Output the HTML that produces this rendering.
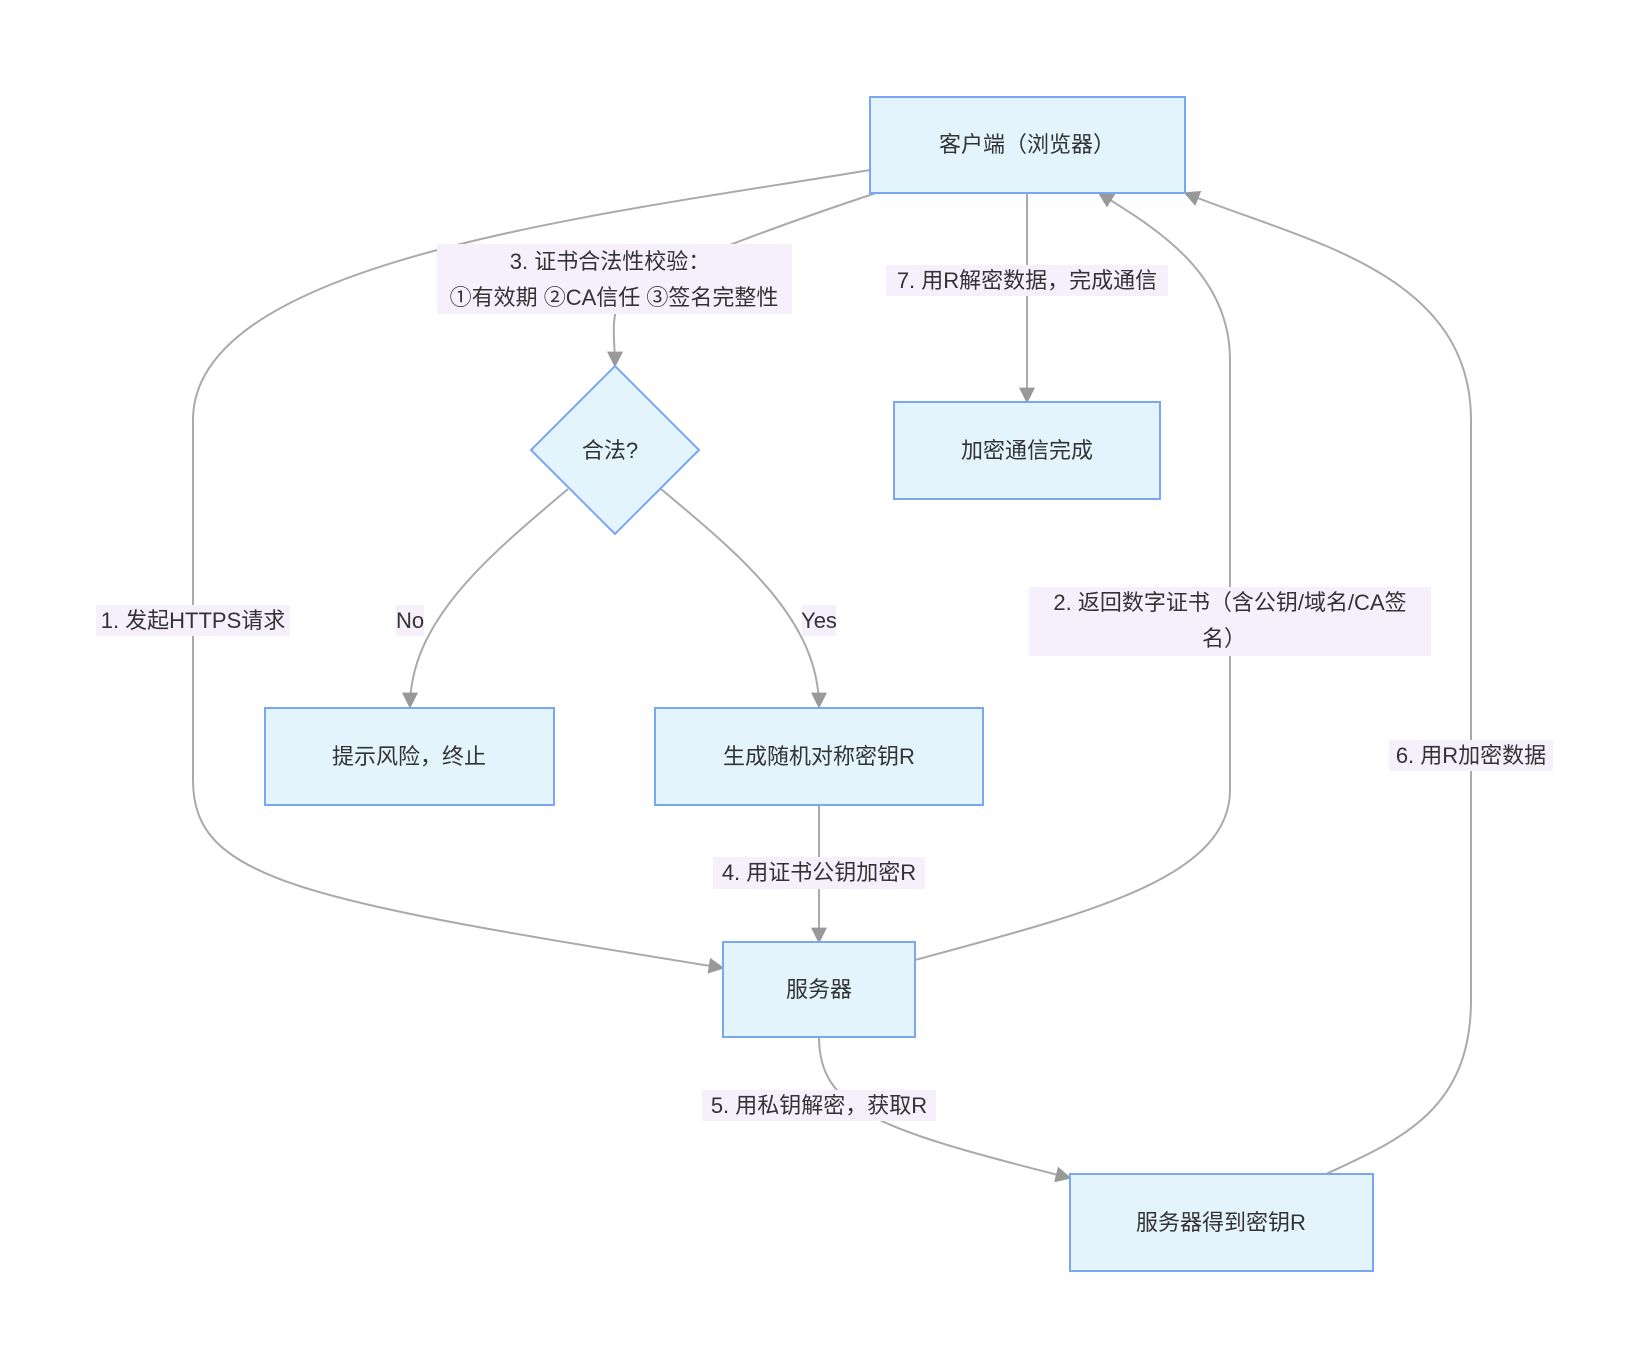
<!DOCTYPE html>
<html><head><meta charset="utf-8"><style>
html,body{margin:0;padding:0;background:#fff;}
text{font-family:"Liberation Sans","Noto Sans CJK SC",sans-serif;font-size:22px;fill:#333;}
.n{fill:#e3f4fd;stroke:#7aa7f5;stroke-width:2;}
.e{fill:none;stroke:#aaa;stroke-width:2;}
.l{fill:#f6f0fd;}
</style></head><body>
<svg width="1641" height="1360" viewBox="0 0 1641 1360" xmlns="http://www.w3.org/2000/svg">
<defs><marker id="a" viewBox="0 0 10 10" refX="9" refY="5" markerWidth="8" markerHeight="8" orient="auto"><path d="M0,0L10,5L0,10z" fill="#999"/></marker></defs>
<!-- edges -->
<path class="e" marker-end="url(#a)" d="M870,170 C600,215 193,260 193,420 L193,780 C193,880 300,900 723,968"/>
<path class="e" marker-end="url(#a)" d="M876,193 C780,225 640,275 620,300 C610,320 615,340 615,366"/>
<path class="e" marker-end="url(#a)" d="M1027,193 L1027,402"/>
<path class="e" marker-end="url(#a)" d="M568,489 C490,555 410,620 410,707"/>
<path class="e" marker-end="url(#a)" d="M661,489 C740,555 819,620 819,707"/>
<path class="e" marker-end="url(#a)" d="M819,805 L819,942"/>
<path class="e" marker-end="url(#a)" d="M915,960 C1080,915 1230,880 1230,790 L1230,360 C1230,270 1150,225 1099,193"/>
<path class="e" marker-end="url(#a)" d="M819,1037 C819,1110 880,1130 1070,1178"/>
<path class="e" marker-end="url(#a)" d="M1326,1174 C1400,1140 1471,1110 1471,1000 L1471,420 C1471,270 1300,240 1185,193"/>
<!-- nodes -->
<rect class="n" x="870" y="97" width="315" height="96"/>
<text x="1027" y="152" text-anchor="middle">客户端（浏览器）</text>
<rect class="n" x="894" y="402" width="266" height="97"/>
<text x="1027" y="458" text-anchor="middle">加密通信完成</text>
<polygon class="n" points="615,366 699,450 615,534 531,450"/>
<text x="610" y="458" text-anchor="middle">合法?</text>
<rect class="n" x="265" y="708" width="289" height="97"/>
<text x="409" y="764" text-anchor="middle">提示风险，终止</text>
<rect class="n" x="655" y="708" width="328" height="97"/>
<text x="819" y="764" text-anchor="middle">生成随机对称密钥R</text>
<rect class="n" x="723" y="942" width="192" height="95"/>
<text x="819" y="997" text-anchor="middle">服务器</text>
<rect class="n" x="1070" y="1174" width="303" height="97"/>
<text x="1221" y="1230" text-anchor="middle">服务器得到密钥R</text>
<!-- labels -->
<rect class="l" x="437" y="244" width="355" height="70"/>
<text x="610" y="269" text-anchor="middle">3. 证书合法性校验：</text>
<text x="614" y="305" text-anchor="middle">①有效期 ②CA信任 ③签名完整性</text>
<rect class="l" x="886" y="265" width="282" height="31"/>
<text x="1027" y="288" text-anchor="middle">7. 用R解密数据，完成通信</text>
<rect class="l" x="96" y="605" width="194" height="31"/>
<text x="193" y="628" text-anchor="middle">1. 发起HTTPS请求</text>
<rect class="l" x="396" y="605" width="28" height="31"/>
<text x="410" y="628" text-anchor="middle">No</text>
<rect class="l" x="802" y="605" width="34" height="31"/>
<text x="819" y="628" text-anchor="middle">Yes</text>
<rect class="l" x="1029" y="587" width="402" height="69"/>
<text x="1230" y="610" text-anchor="middle">2. 返回数字证书（含公钥/域名/CA签</text>
<text x="1224" y="646" text-anchor="middle">名）</text>
<rect class="l" x="1389" y="740" width="164" height="31"/>
<text x="1471" y="763" text-anchor="middle">6. 用R加密数据</text>
<rect class="l" x="713" y="857" width="212" height="32"/>
<text x="819" y="880" text-anchor="middle">4. 用证书公钥加密R</text>
<rect class="l" x="702" y="1090" width="234" height="31"/>
<text x="819" y="1113" text-anchor="middle">5. 用私钥解密，获取R</text>
</svg>
</body></html>
